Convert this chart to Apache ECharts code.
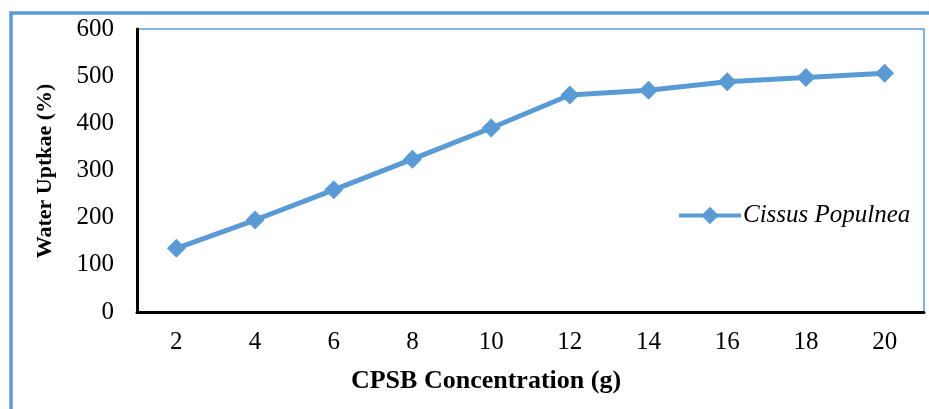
<!DOCTYPE html>
<html>
<head>
<meta charset="utf-8">
<script src="https://cdn.jsdelivr.net/npm/echarts@6/dist/echarts.min.js"></script>
<style>html,body{margin:0;padding:0;background:#fff;}#c{width:929px;height:409px;}</style>
</head>
<body>
<div id="c"></div>
<script>
const categories = ['2','4','6','8','10','12','14','16','18','20'];
const waterUptake = [135, 195, 259, 324, 390, 460, 470, 488, 497, 506];
const seriesName = 'Cissus Populnea';
const xTitle = 'CPSB Concentration (g)';
const yTitle = 'Water Uptkae (%)';

const blue = '#5B9BD5';
const font = '"Liberation Serif","Times New Roman",serif';
const chart = echarts.init(document.getElementById('c'));
chart.setOption({
  animation: false,
  backgroundColor: '#fff',
  grid: { left: 137, top: 29, right: 5, bottom: 97, show: true, borderColor: blue, borderWidth: 1.5 },
  xAxis: {
    type: 'category', data: categories, boundaryGap: true,
    axisLine: { lineStyle: { color: '#000', width: 3 } },
    axisTick: { show: false },
    axisLabel: { color: '#000', fontFamily: font, fontSize: 25, margin: 18 },
    splitLine: { show: false }
  },
  yAxis: {
    type: 'value', min: 0, max: 600, interval: 100,
    axisLine: { show: true, lineStyle: { color: '#000', width: 3 } },
    axisTick: { show: false },
    axisLabel: { color: '#000', fontFamily: font, fontSize: 25, margin: 23 },
    splitLine: { show: false }
  },
  legend: {
    left: 677, top: 203, padding: 0, itemWidth: 62, itemHeight: 22, itemGap: 0,
    lineStyle: { width: 4 },
    textStyle: { fontFamily: font, fontSize: 25, fontStyle: 'italic', color: '#000', padding: [0,0,0,-3] },
    data: [seriesName]
  },
  series: [{
    name: seriesName, type: 'line', data: waterUptake,
    symbol: 'diamond', symbolSize: 19,
    lineStyle: { color: blue, width: 5 },
    itemStyle: { color: blue }
  }],
  graphic: [
    { type: 'rect', silent: true, shape: { x: 11, y: 13, width: 1000, height: 500 }, style: { fill: 'none', stroke: blue, lineWidth: 3.5 } },
    { type: 'text', x: 486, y: 381, style: { text: xTitle, font: 'bold 26px ' + font, fill: '#000', textAlign: 'center', textVerticalAlign: 'middle' } },
    { type: 'text', x: 45, y: 171, rotation: Math.PI / 2, style: { text: yTitle, font: 'bold 22px ' + font, fill: '#000', textAlign: 'center', textVerticalAlign: 'middle' } }
  ]
});
</script>
</body>
</html>
